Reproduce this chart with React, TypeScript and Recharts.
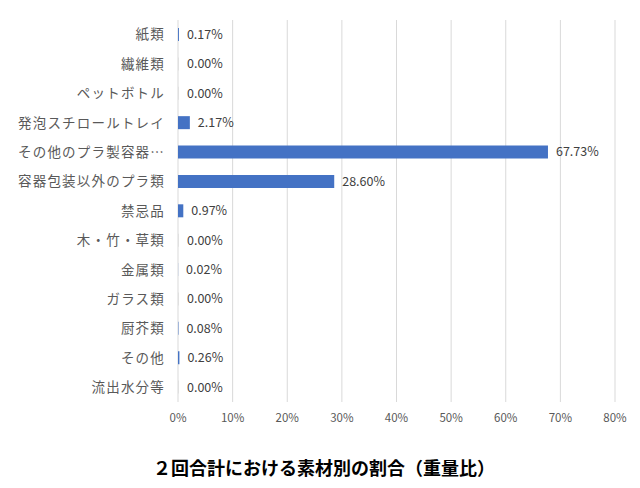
import React from "react";
import {
  BarChart,
  Bar,
  Cell,
  XAxis,
  YAxis,
  CartesianGrid,
  LabelList,
} from "recharts";

const categories = [
  "紙類",
  "繊維類",
  "ペットボトル",
  "発泡スチロールトレイ",
  "その他のプラ製容器…",
  "容器包装以外のプラ類",
  "禁忌品",
  "木・竹・草類",
  "金属類",
  "ガラス類",
  "厨芥類",
  "その他",
  "流出水分等",
];

const shares = [0.17, 0, 0, 2.17, 67.73, 28.6, 0.97, 0, 0.02, 0, 0.08, 0.26, 0];

const xTicks = [0, 10, 20, 30, 40, 50, 60, 70, 80];

const chartTitle = "２回合計における素材別の割合（重量比）";

const data = categories.map((name, i) => ({ name, value: shares[i] }));

const font = "'Noto Sans CJK JP', 'Noto Sans', sans-serif";

const App: React.FC = () => {
  return (
    <div style={{ position: "relative", width: 640, height: 488, fontFamily: font }}>
      <style>{"body{margin:0}"}</style>
      <BarChart
        layout="vertical"
        width={640}
        height={488}
        data={data}
        margin={{ top: 20, right: 25, left: 0, bottom: 56 }}
      >
        <CartesianGrid horizontal={false} stroke="#d9d9d9" />
        <XAxis
          type="number"
          domain={[0, 80]}
          ticks={xTicks}
          tickFormatter={(v: number) => `${v}%`}
          axisLine={false}
          tickLine={false}
          tickMargin={6}
          height={30}
          tick={{ fontSize: 11.5, fill: "#595959", fontFamily: font }}
        />
        <YAxis
          type="category"
          dataKey="name"
          width={178}
          axisLine={false}
          tickLine={false}
          tickMargin={7}
          interval={0}
          tick={{ fontSize: 13.5, fill: "#595959", fontFamily: font, letterSpacing: 1.2 }}
        />
        <Bar
          dataKey="value"
          fill="#4472c4"
          barSize={13}
          minPointSize={(v: number) => (v === 0 ? 1 : 0)}
          isAnimationActive={false}
        >
          {data.map((d) => (
            <Cell key={d.name} fill={d.value === 0 ? "#e0e0e0" : "#4472c4"} />
          ))}
          <LabelList
            dataKey="value"
            position="right"
            offset={8}
            formatter={(v: number) => `${v.toFixed(2)}%`}
            style={{ fontSize: 12.5, fill: "#404040", fontFamily: font }}
          />
        </Bar>
      </BarChart>
      <div
        style={{
          position: "absolute",
          left: 0,
          width: 648,
          top: 454,
          textAlign: "center",
          fontSize: 18,
          fontWeight: "bold",
          color: "#000",
        }}
      >
        {chartTitle}
      </div>
    </div>
  );
};

export default App;
